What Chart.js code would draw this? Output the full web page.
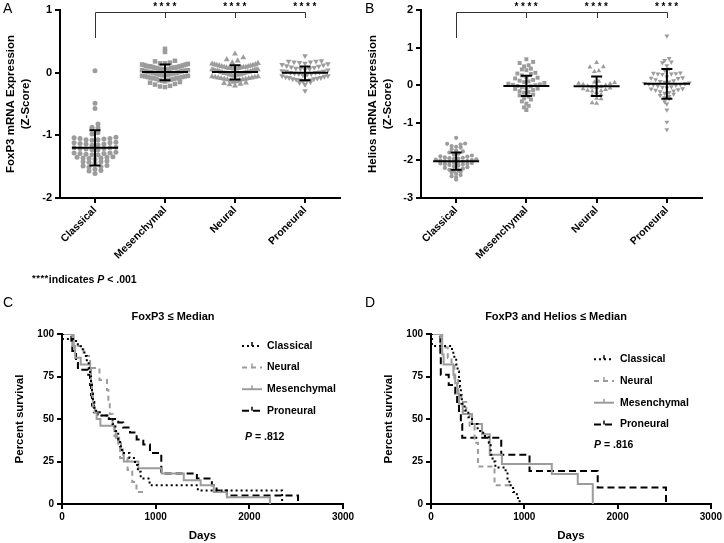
<!DOCTYPE html>
<html>
<head>
<meta charset="utf-8">
<script src="https://cdn.jsdelivr.net/npm/chart.js@4.4.1/dist/chart.umd.min.js"></script>
<style>
  body { margin: 0; background: #fff; font-family: "Liberation Sans", Arial, sans-serif; }
  #fig { position: relative; width: 724px; height: 543px; background: #fff; }
  .panel { position: absolute; }
  .panel canvas { display: block; }
  .txt { position: absolute; white-space: nowrap; color: #000; line-height: 1; }
  .ttl { font-weight: bold; font-size: 11px; transform: translateX(-50%); }
</style>
</head>
<body>
<div id="fig">
  <div class="panel" style="left:0;top:0"><canvas id="chartA" width="362" height="270"></canvas></div>
  <div class="panel" style="left:362px;top:0"><canvas id="chartB" width="362" height="270"></canvas></div>
  <div class="panel" style="left:0;top:300px"><canvas id="chartC" width="362" height="243"></canvas></div>
  <div class="panel" style="left:362px;top:300px"><canvas id="chartD" width="362" height="243"></canvas></div>

  <div class="txt" style="left:3px;top:1px;font-size:14px">A</div>
  <div class="txt" style="left:365px;top:1px;font-size:14px">B</div>
  <div class="txt" style="left:3px;top:295px;font-size:14px">C</div>
  <div class="txt" style="left:365px;top:295px;font-size:14px">D</div>

  <div class="txt" style="left:32px;top:274px;font-size:10.5px;font-weight:bold"><span style="font-size:9.5px;letter-spacing:0.5px;position:relative;top:-2px">****</span>indicates <i>P</i> &lt; .001</div>
  <div class="txt ttl" style="left:173px;top:311px">FoxP3 ≤ Median</div>
  <div class="txt ttl" style="left:556px;top:311px">FoxP3 and Helios ≤ Median</div>
</div>

<script>
const subtypes = ['Classical', 'Mesenchymal', 'Neural', 'Proneural'];

// panel A - FoxP3 z-scores
const foxClassical = [0.03, -0.49, -0.57, -0.82, -0.87, -0.88, -0.89, -0.96, -0.98, -1.03, -1.04, -1.05, -1.05, -1.06,
  -1.07, -1.07, -1.08, -1.11, -1.12, -1.12, -1.13, -1.14, -1.14, -1.15, -1.16, -1.19, -1.20, -1.20, -1.21, -1.21,
  -1.22, -1.23, -1.23, -1.27, -1.28, -1.28, -1.29, -1.29, -1.30, -1.31, -1.31, -1.34, -1.35, -1.35, -1.36, -1.36,
  -1.37, -1.38, -1.41, -1.42, -1.42, -1.43, -1.44, -1.48, -1.49, -1.50, -1.51, -1.54, -1.56, -1.57, -1.61];
const foxMesenchymal = [0.38, 0.33, 0.19, 0.18, 0.16, 0.15, 0.15, 0.14, 0.13, 0.13, 0.12, 0.12, 0.11, 0.11, 0.10,
  0.10, 0.10, 0.09, 0.09, 0.08, 0.08, 0.08, 0.07, 0.07, 0.06, 0.06, 0.06, 0.05, 0.05, 0.05, 0.04, 0.04, 0.03, 0.03,
  0.03, 0.02, 0.02, 0.01, 0.01, 0.01, 0.00, 0.00, -0.01, -0.01, -0.01, -0.02, -0.02, -0.03, -0.03, -0.04, -0.04,
  -0.04, -0.05, -0.05, -0.06, -0.06, -0.07, -0.07, -0.08, -0.08, -0.09, -0.09, -0.10, -0.10, -0.11, -0.12, -0.12,
  -0.13, -0.14, -0.15, -0.16, -0.18, -0.19, -0.21, -0.22, -0.23];
const foxNeural = [0.30, 0.24, 0.21, 0.19, 0.16, 0.15, 0.14, 0.13, 0.13, 0.12, 0.12, 0.11, 0.11, 0.10, 0.10, 0.09,
  0.09, 0.09, 0.08, 0.08, 0.07, 0.07, 0.07, 0.06, 0.06, 0.05, 0.05, 0.05, 0.04, 0.04, 0.03, 0.03, 0.03, 0.02, 0.02,
  0.01, 0.01, 0.01, 0.00, 0.00, -0.01, -0.01, -0.01, -0.02, -0.02, -0.03, -0.03, -0.03, -0.04, -0.04, -0.05, -0.05,
  -0.06, -0.06, -0.07, -0.07, -0.08, -0.08, -0.09, -0.09, -0.10, -0.10, -0.11, -0.11, -0.12, -0.13, -0.14, -0.15,
  -0.16, -0.17, -0.18, -0.19, -0.21];
const foxProneural = [0.27, 0.19, 0.18, 0.18, 0.17, 0.17, 0.16, 0.15, 0.14, 0.13, 0.12, 0.11, 0.10, 0.09, 0.08,
  0.07, 0.06, 0.06, 0.05, 0.04, 0.03, 0.02, 0.02, 0.01, 0.00, 0.00, -0.01, -0.02, -0.02, -0.03, -0.04, -0.05, -0.05,
  -0.06, -0.07, -0.08, -0.08, -0.09, -0.10, -0.10, -0.11, -0.12, -0.12, -0.13, -0.14, -0.15, -0.16, -0.19, -0.29];
const foxMean = [-1.20, 0.01, 0.01, 0.00];
const foxSdHigh = [-0.92, 0.13, 0.12, 0.10];
const foxSdLow = [-1.48, -0.12, -0.11, -0.12];
const foxTicks = [-2, -1, 0, 1];

// panel B - Helios z-scores
const helClassical = [-1.40, -1.55, -1.56, -1.58, -1.62, -1.64, -1.66, -1.70, -1.74, -1.76, -1.79, -1.82, -1.85,
  -1.87, -1.89, -1.90, -1.92, -1.93, -1.94, -1.95, -1.96, -1.97, -1.98, -1.99, -2.00, -2.01, -2.02, -2.03, -2.04,
  -2.05, -2.06, -2.07, -2.08, -2.09, -2.10, -2.11, -2.12, -2.14, -2.16, -2.18, -2.20, -2.22, -2.25, -2.27, -2.28,
  -2.30, -2.33, -2.36, -2.39, -2.42, -2.45, -2.51];
const helMesenchymal = [0.69, 0.62, 0.59, 0.53, 0.50, 0.44, 0.42, 0.40, 0.33, 0.31, 0.30, 0.26, 0.22, 0.20, 0.18,
  0.14, 0.12, 0.10, 0.08, 0.06, 0.04, 0.02, 0.01, 0.00, -0.02, -0.03, -0.05, -0.07, -0.09, -0.10, -0.13, -0.16,
  -0.18, -0.20, -0.25, -0.27, -0.30, -0.35, -0.38, -0.43, -0.49, -0.55, -0.59, -0.66];
const helNeural = [0.60, 0.49, 0.48, 0.38, 0.36, 0.10, 0.08, 0.07, 0.05, 0.04, 0.02, 0.00, -0.02, -0.04, -0.05,
  -0.06, -0.08, -0.10, -0.12, -0.14, -0.15, -0.16, -0.20, -0.25, -0.27, -0.35, -0.36, -0.47, -0.48];
const helProneural = [1.31, 0.71, 0.66, 0.62, 0.60, 0.52, 0.43, 0.40, 0.33, 0.32, 0.31, 0.30, 0.30, 0.29, 0.22,
  0.20, 0.19, 0.18, 0.15, 0.12, 0.10, 0.09, 0.08, 0.06, 0.05, 0.04, 0.03, 0.02, 0.01, 0.00, -0.02, -0.04, -0.05,
  -0.07, -0.09, -0.10, -0.12, -0.13, -0.15, -0.17, -0.19, -0.21, -0.24, -0.27, -0.30, -0.33, -0.36, -0.44, -0.50,
  -0.66, -0.98, -1.18];
const helMean = [-2.02, -0.02, -0.03, 0.04];
const helSdHigh = [-1.79, 0.25, 0.23, 0.43];
const helSdLow = [-2.25, -0.29, -0.29, -0.36];
const helTicks = [-3, -2, -1, 0, 1, 2];

// panels C and D - survival, [days, percent surviving]
const survLabels = ['Classical', 'Neural', 'Mesenchymal', 'Proneural'];
const survTicksX = [0, 1000, 2000, 3000];
const survTicksY = [0, 25, 50, 75, 100];

const foxLowClassical = [[0, 100], [10, 97], [150, 94], [200, 91], [240, 87], [265, 84], [285, 80], [300, 75],
  [310, 70], [320, 65], [330, 60], [345, 56], [365, 54], [420, 52], [500, 50], [540, 47], [570, 43], [600, 38],
  [620, 34], [640, 30], [720, 27], [780, 23], [810, 19], [840, 15], [935, 11], [1450, 8], [2350, 0]];
const foxLowNeural = [[0, 100], [110, 93], [230, 87], [300, 80], [400, 73], [480, 67], [495, 60], [510, 53],
  [540, 47], [560, 40], [600, 33], [620, 27], [700, 20], [750, 13], [795, 7], [880, 7]];
const foxLowMesenchymal = [[0, 100], [125, 93], [140, 86], [200, 82], [300, 79], [310, 71], [320, 64], [330, 57],
  [350, 54], [370, 50], [410, 46], [560, 43], [575, 39], [610, 36], [630, 32], [650, 29], [660, 25], [815, 21],
  [1065, 18], [1300, 14], [1480, 11], [1620, 7], [1760, 4], [2220, 0]];
const foxLowProneural = [[0, 100], [100, 96], [110, 90], [150, 83], [170, 79], [280, 76], [300, 70], [310, 64],
  [320, 58], [340, 54], [380, 52], [512, 50], [601, 48], [654, 45], [726, 42], [797, 38], [868, 35], [939, 30],
  [1060, 18], [1440, 15], [1600, 11], [1650, 8], [1760, 5], [2520, 0]];

const bothLowClassical = [[0, 100], [10, 93], [225, 89], [250, 86], [270, 82], [285, 78], [300, 74], [310, 69],
  [320, 64], [330, 59], [360, 55], [400, 51], [440, 47], [500, 43], [560, 40], [620, 36], [640, 29], [660, 25],
  [690, 21.5], [800, 18], [820, 14], [840, 11], [880, 7], [920, 3.5], [950, 0]];
const bothLowNeural = [[0, 100], [103, 92], [180, 86], [220, 82], [250, 74], [290, 66], [325, 60], [378, 53],
  [414, 46], [467, 36], [503, 22], [681, 11], [860, 11]];
const bothLowMesenchymal = [[0, 100], [120, 88], [135, 82], [240, 76], [260, 71], [280, 65], [300, 59], [340, 53],
  [440, 47], [546, 41], [630, 29], [760, 23.5], [1295, 17.6], [1573, 11.8], [1734, 0]];
const bothLowProneural = [[0, 100], [100, 88], [105, 76], [190, 70], [260, 65], [280, 59], [300, 53], [320, 47],
  [335, 39], [753, 29], [1056, 19.4], [1787, 9.7], [2519, 0]];

Chart.defaults.font.family = '"Liberation Sans", Arial, sans-serif';
Chart.defaults.color = '#000';

const GRAY = '#9c9c9c';
const PX_PER_CAT = 70.25;

// spread points of a group sideways, row by row, like a column scatter
function swarmOffsets(vals, pxPerY, rowPx, stepPx, halfPx) {
  const rows = new Map();
  vals.forEach((v, i) => {
    const r = Math.round(v * pxPerY / rowPx);
    if (!rows.has(r)) rows.set(r, []);
    rows.get(r).push(i);
  });
  const off = new Array(vals.length).fill(0);
  rows.forEach(idx => {
    const n = idx.length;
    const s = n > 1 ? Math.min(stepPx, 2 * halfPx / (n - 1)) : 0;
    idx.sort((a, b) => vals[a] - vals[b]);
    // slots ordered from the centre outwards
    const slots = [];
    for (let k = 0; k < n; k++) slots.push((k - (n - 1) / 2) * s);
    slots.sort((a, b) => Math.abs(a) - Math.abs(b));
    idx.forEach((i, k) => { off[i] = slots[k] / PX_PER_CAT; });
  });
  return off;
}

const meanSd = {
  id: 'meanSd',
  afterDatasetsDraw(chart, args, o) {
    if (!o.mean) return;
    const {ctx, scales: {x, y}} = chart;
    ctx.save();
    ctx.strokeStyle = '#000';
    ctx.lineWidth = 2;
    ctx.beginPath();
    o.mean.forEach((m, i) => {
      const cx = x.getPixelForValue(i);
      const my = y.getPixelForValue(m);
      const hy = y.getPixelForValue(o.hi[i]);
      const ly = y.getPixelForValue(o.lo[i]);
      ctx.moveTo(cx - 23, my); ctx.lineTo(cx + 23, my);
      ctx.moveTo(cx, hy); ctx.lineTo(cx, ly);
      ctx.moveTo(cx - 5.5, hy); ctx.lineTo(cx + 5.5, hy);
      ctx.moveTo(cx - 5.5, ly); ctx.lineTo(cx + 5.5, ly);
    });
    ctx.stroke();
    ctx.restore();
  }
};

const bracket = {
  id: 'bracket',
  afterDraw(chart, args, o) {
    if (!o.show) return;
    const {ctx, chartArea, scales: {x}} = chart;
    const top = chartArea.top;
    const ys = top + 2.5;
    ctx.save();
    ctx.strokeStyle = '#333';
    ctx.lineWidth = 1;
    ctx.beginPath();
    const x0 = Math.round(x.getPixelForValue(0)) + 0.5;
    const x3 = Math.round(x.getPixelForValue(3)) + 0.5;
    ctx.moveTo(x0, top + 28); ctx.lineTo(x0, ys); ctx.lineTo(x3, ys);
    for (let i = 1; i <= 3; i++) {
      const cx = Math.round(x.getPixelForValue(i)) + 0.5;
      ctx.moveTo(cx, ys); ctx.lineTo(cx, top + 8);
    }
    ctx.stroke();
    ctx.fillStyle = '#000';
    ctx.font = 'bold 10px "Liberation Sans", Arial, sans-serif';
    ctx.textAlign = 'center';
    ctx.textBaseline = 'middle';
    ctx.letterSpacing = '2.5px';
    for (let i = 1; i <= 3; i++) {
      ctx.fillText('****', x.getPixelForValue(i) + 1, top - 3);
    }
    ctx.restore();
  }
};

const kmLegend = {
  id: 'kmLegend',
  afterDraw(chart, args, o) {
    if (!o.x) return;
    const ctx = chart.ctx;
    ctx.save();
    ctx.font = 'bold 10.5px "Liberation Sans", Arial, sans-serif';
    ctx.textBaseline = 'middle';
    chart.data.datasets.forEach((ds, k) => {
      const y = o.y + k * o.gap;
      ctx.strokeStyle = ds.borderColor;
      ctx.lineWidth = 2;
      ctx.setLineDash(ds.borderDash || []);
      ctx.beginPath();
      ctx.moveTo(o.x, y); ctx.lineTo(o.x + 20, y);
      ctx.stroke();
      ctx.setLineDash([]);
      ctx.lineWidth = 1.5;
      ctx.beginPath();
      ctx.moveTo(o.x + 10, y - 4); ctx.lineTo(o.x + 10, y);
      ctx.stroke();
      ctx.fillStyle = '#000';
      ctx.fillText(ds.label, o.x + o.textGap, y);
    });
    ctx.fillStyle = '#000';
    ctx.font = 'italic bold 10.5px "Liberation Sans", Arial, sans-serif';
    ctx.fillText('P', o.px, o.py);
    const w = ctx.measureText('P').width;
    ctx.font = 'bold 10.5px "Liberation Sans", Arial, sans-serif';
    ctx.fillText(' = ' + o.p, o.px + w, o.py);
    ctx.restore();
  }
};

function axisStyle() {
  return {
    grid: { drawOnChartArea: false, tickLength: 5, color: '#000', lineWidth: 2 },
    border: { color: '#000', width: 2 }
  };
}

function dotPlot(id, groups, mean, hi, lo, yTicks, yTitle, pxPerY, radii, steps, axisW) {
  const markers = ['circle', 'rect', 'triangle', 'triangle'];
  const datasets = groups.map((vals, g) => {
    const off = swarmOffsets(vals, pxPerY, radii[g] * 1.9, steps[g], 23);
    return {
      label: subtypes[g],
      data: vals.map((v, i) => ({ x: g + off[i], y: v })),
      pointStyle: markers[g],
      rotation: g === 3 ? 180 : 0,
      pointRadius: radii[g],
      pointBackgroundColor: GRAY,
      pointBorderColor: GRAY,
      pointBorderWidth: 0
    };
  });
  return new Chart(document.getElementById(id), {
    type: 'scatter',
    data: { datasets },
    options: {
      responsive: false,
      animation: false,
      events: [],
      layout: { padding: { left: 0, top: 10, right: 22, bottom: 0 } },
      plugins: {
        legend: { display: false },
        tooltip: { enabled: false },
        meanSd: { mean, hi, lo },
        bracket: { show: true }
      },
      scales: {
        x: {
          type: 'linear', min: -0.5, max: 3.5,
          afterBuildTicks: s => { s.ticks = subtypes.map((c, i) => ({ value: i })); },
          afterFit: s => { s.height = 72; },
          ticks: {
            autoSkip: false, minRotation: 45, maxRotation: 45, padding: 1,
            font: { weight: 'bold', size: 10.5 },
            callback: v => subtypes[v]
          },
          ...axisStyle()
        },
        y: {
          min: yTicks[0], max: yTicks[yTicks.length - 1],
          afterBuildTicks: s => { s.ticks = yTicks.map(v => ({ value: v })); },
          afterFit: s => { s.width = axisW; },
          ticks: { font: { weight: 'bold', size: 11 } },
          title: {
            display: true, text: yTitle, color: '#000',
            font: { weight: 'bold', size: 11.5, lineHeight: 1.3 },
            padding: { top: 3, bottom: 0 }
          },
          ...axisStyle()
        }
      }
    },
    plugins: [meanSd, bracket]
  });
}

function kmPlot(id, curves, axisW, rightPad, titlePad, legend) {
  const colors = ['#000', GRAY, GRAY, '#000'];
  const dashes = [[2, 3], [5, 4], [], [7, 4]];
  const datasets = curves.map((pts, k) => ({
    label: survLabels[k],
    data: pts.map(p => ({ x: p[0], y: p[1] })),
    borderColor: colors[k],
    borderDash: dashes[k],
    borderWidth: 2,
    stepped: 'before',
    pointRadius: 0,
    fill: false
  }));
  return new Chart(document.getElementById(id), {
    type: 'line',
    data: { datasets },
    options: {
      responsive: false,
      animation: false,
      events: [],
      layout: { padding: { left: 0, top: 34, right: rightPad, bottom: 0 } },
      plugins: {
        legend: { display: false },
        tooltip: { enabled: false },
        kmLegend: legend
      },
      scales: {
        x: {
          type: 'linear', min: 0, max: 3000,
          afterBuildTicks: s => { s.ticks = survTicksX.map(v => ({ value: v })); },
          afterFit: s => { s.height = 39; },
          ticks: { font: { weight: 'bold', size: 10 }, callback: v => String(v), padding: 2 },
          title: {
            display: true, text: 'Days', color: '#000',
            font: { weight: 'bold', size: 11.5 }, padding: { top: 0, bottom: 0 }
          },
          ...axisStyle()
        },
        y: {
          min: 0, max: 100,
          afterBuildTicks: s => { s.ticks = survTicksY.map(v => ({ value: v })); },
          afterFit: s => { s.width = axisW; },
          ticks: { font: { weight: 'bold', size: 10 } },
          title: {
            display: true, text: 'Percent survival', color: '#000',
            font: { weight: 'bold', size: 11.5 }, padding: { top: titlePad, bottom: 0 }
          },
          ...axisStyle()
        }
      }
    },
    plugins: [kmLegend]
  });
}

dotPlot('chartA', [foxClassical, foxMesenchymal, foxNeural, foxProneural], foxMean, foxSdHigh, foxSdLow,
  foxTicks, ['FoxP3 mRNA Expression', '(Z-Score)'], 62.7, [2.5, 3.2, 3.4, 3.2], [6, 5, 5.5, 5.5], 60);
dotPlot('chartB', [helClassical, helMesenchymal, helNeural, helProneural], helMean, helSdHigh, helSdLow,
  helTicks, ['Helios mRNA Expression', '(Z-Score)'], 37.6, [2.1, 2.8, 2.8, 2.8], [4.5, 4.5, 4.5, 4.5], 59);

kmPlot('chartC', [foxLowClassical, foxLowNeural, foxLowMesenchymal, foxLowProneural], 62, 19, 13,
  { x: 242, y: 46, gap: 21.6, textGap: 25, px: 245, py: 137, p: '.812' });
kmPlot('chartD', [bothLowClassical, bothLowNeural, bothLowMesenchymal, bothLowProneural], 69, 13, 20,
  { x: 232, y: 59.3, gap: 21.7, textGap: 26, px: 232, py: 145, p: '.816' });
</script>
</body>
</html>
